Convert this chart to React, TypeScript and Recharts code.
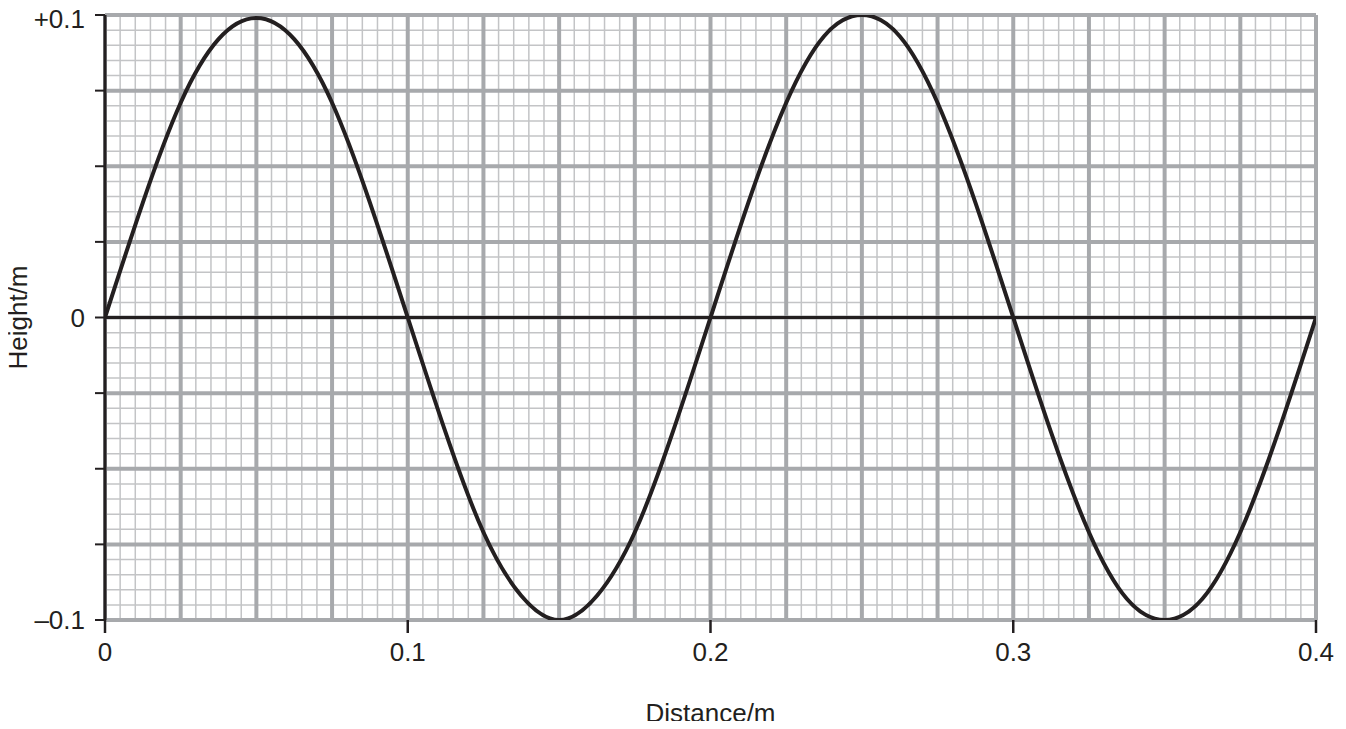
import React from "react";
import {
  LineChart,
  Line,
  XAxis,
  YAxis,
  CartesianGrid,
  ReferenceLine,
  Label,
} from "recharts";

const distance = [
  0, 0.0125, 0.025, 0.0375, 0.05, 0.0625, 0.075, 0.0875, 0.1, 0.1125, 0.125,
  0.1375, 0.15, 0.1625, 0.175, 0.1875, 0.2, 0.2125, 0.225, 0.2375, 0.25, 0.2625,
  0.275, 0.2875, 0.3, 0.3125, 0.325, 0.3375, 0.35, 0.3625, 0.375, 0.3875, 0.4,
];
const height = [
  0, 0.038, 0.071, 0.092, 0.099, 0.092, 0.071, 0.038, 0, -0.038, -0.071,
  -0.092, -0.1, -0.092, -0.071, -0.038, 0, 0.038, 0.071, 0.093, 0.1, 0.093,
  0.071, 0.038, 0, -0.038, -0.071, -0.093, -0.1, -0.093, -0.071, -0.038, 0,
];

const xTicks = [0, 0.1, 0.2, 0.3, 0.4];
const yTicks = [-0.1, -0.075, -0.05, -0.025, 0, 0.025, 0.05, 0.075, 0.1];
const yLabels: Record<string, string> = { "0.1": "+0.1", "0": "0", "-0.1": "\u20130.1" };

// graph paper: big squares 0.025, small squares 0.005
const majorX = Array.from({ length: 17 }, (_, i) => i * 0.025);
const majorY = Array.from({ length: 9 }, (_, i) => -0.1 + i * 0.025);
const minorX = Array.from({ length: 81 }, (_, i) => i * 0.005);
const minorY = Array.from({ length: 41 }, (_, i) => -0.1 + i * 0.005);

const data = distance.map((x, i) => ({ x, y: height[i] }));

const ink = "#231f20";
const font = { fontFamily: "Liberation Sans, Arial, sans-serif", fontSize: 26, fill: ink };

const YTitle = (props: any) => {
  const vb = props.viewBox || {};
  const cy = (vb.y || 0) + (vb.height || 0) / 2;
  return (
    <text
      x={27}
      y={cy}
      transform={`rotate(-90 27 ${cy})`}
      textAnchor="middle"
      style={font}
    >
      Height/m
    </text>
  );
};

const YTick = (props: any) => {
  const { x, y, payload } = props;
  const label = yLabels[String(payload.value)] ?? "";
  if (!label) return null;
  // top label sits a little lower, like on the original sheet
  const shift = payload.value === 0.1 ? 13 : 9;
  return (
    <text x={x} y={y + shift} textAnchor="end" style={font}>
      {label}
    </text>
  );
};

const App: React.FC = () => {
  return (
    <div style={{ margin: -8 }}>
      <LineChart
        width={1346}
        height={729}
        data={data}
        margin={{ top: 15, right: 30, bottom: 7, left: 0 }}
      >
        <XAxis xAxisId="minor" dataKey="x" type="number" domain={[0, 0.4]} ticks={minorX} interval={0} hide allowDataOverflow />
        <YAxis yAxisId="minor" dataKey="y" type="number" domain={[-0.1, 0.1]} ticks={minorY} interval={0} hide allowDataOverflow />
        <XAxis xAxisId="major" dataKey="x" type="number" domain={[0, 0.4]} ticks={majorX} interval={0} hide allowDataOverflow />
        <YAxis yAxisId="major" dataKey="y" type="number" domain={[-0.1, 0.1]} ticks={majorY} interval={0} hide allowDataOverflow />
        <CartesianGrid xAxisId="minor" yAxisId="minor" stroke="#c3c4c6" strokeWidth={1.5} />
        <CartesianGrid xAxisId="major" yAxisId="major" stroke="#a7a9ac" strokeWidth={4} />
        <XAxis
          dataKey="x"
          type="number"
          domain={[0, 0.4]}
          ticks={xTicks}
          interval={0}
          allowDataOverflow
          axisLine={false}
          tickLine={{ stroke: ink, strokeWidth: 2.5 }}
          tickSize={13}
          tickMargin={10}
          tick={font}
          height={102}
        >
          <Label value="Distance/m" position="insideBottom" offset={0} style={font} />
        </XAxis>
        <YAxis
          type="number"
          domain={[-0.1, 0.1]}
          ticks={yTicks}
          interval={0}
          allowDataOverflow
          width={105}
          axisLine={{ stroke: ink, strokeWidth: 3 }}
          tickLine={{ stroke: ink, strokeWidth: 2 }}
          tickSize={10}
          tickMargin={10}
          tick={<YTick />}
        >
          <Label content={YTitle} />
        </YAxis>
        <ReferenceLine y={0} stroke={ink} strokeWidth={3} />
        <Line
          type="natural"
          dataKey="y"
          stroke={ink}
          strokeWidth={4}
          dot={false}
          isAnimationActive={false}
        />
      </LineChart>
    </div>
  );
};

export default App;
